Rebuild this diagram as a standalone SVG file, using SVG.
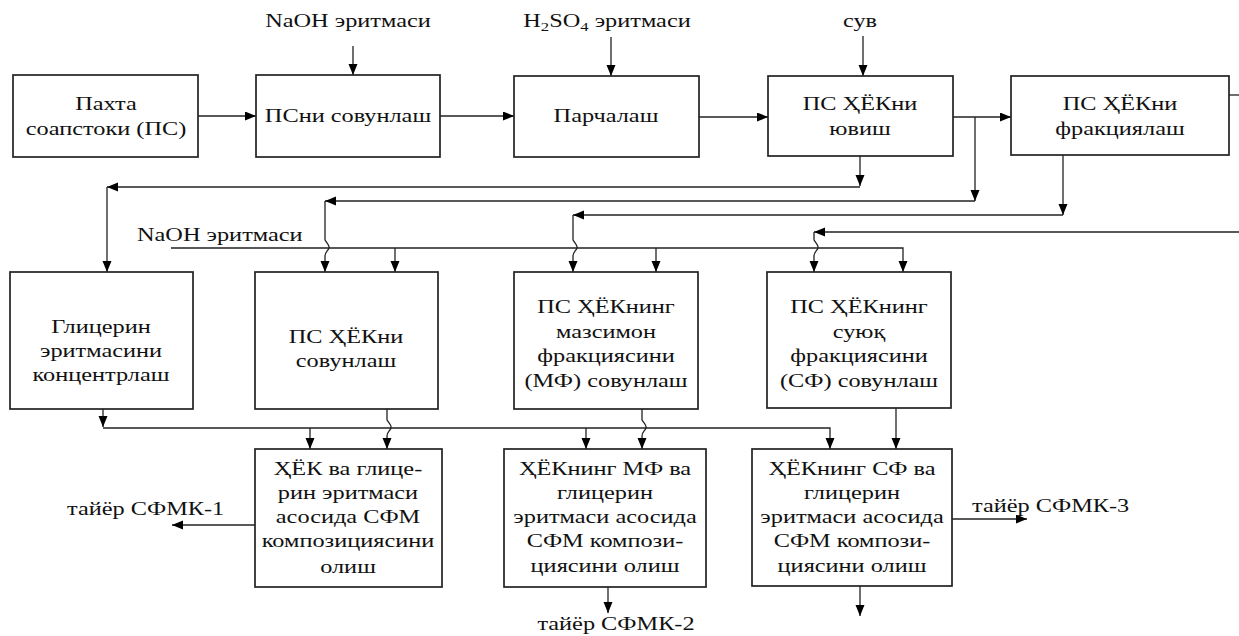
<svg xmlns="http://www.w3.org/2000/svg" width="1239" height="636" viewBox="0 0 1239 636">
<defs>
<marker id="ah" markerUnits="userSpaceOnUse" markerWidth="12" markerHeight="10" refX="11" refY="4.5" orient="auto">
<path d="M0,0 L11,4.5 L0,9 z" fill="#000"/>
</marker>
<style>
.box{fill:#fff;stroke:#222;stroke-width:1.7}
.ln{fill:none;stroke:#222;stroke-width:1.3}
.ar{fill:none;stroke:#222;stroke-width:1.3;marker-end:url(#ah)}
text{font-family:"Liberation Serif","Times New Roman",serif;font-size:19px;fill:#111;text-anchor:middle}
.l{text-anchor:start}
</style>
</defs>
<rect width="1239" height="636" fill="#fff"/>
<g id="connectors">
<path class="ar" d="M198,116 H256"/>
<path class="ar" d="M440,116 H514"/>
<path class="ar" d="M699,117 H768"/>
<path class="ar" d="M953,117 H1011"/>
<path class="ar" d="M353,46 V75"/>
<path class="ar" d="M611,37 V76"/>
<path class="ar" d="M863,36 V76"/>
<path class="ar" d="M860,156 V186"/>
<path class="ar" d="M860,187 H107"/>
<path class="ar" d="M107,187 V272"/>
<path class="ar" d="M975,117 V201"/>
<path class="ar" d="M975,201 H325"/>
<path class="ar" d="M325,201 V240 C327,243 330,246 329,248 C328,251 325,252 325,256 V272"/>
<path class="ar" d="M1063,155 V215"/>
<path class="ar" d="M1063,215 H573"/>
<path class="ar" d="M573,215 V240 C575,243 578,246 577,248 C576,251 573,252 573,256 V272"/>
<path class="ln" d="M1229,95 H1239"/>
<path class="ar" d="M1239,232 H814"/>
<path class="ar" d="M814,232 V240 C816,243 819,246 818,248 C817,251 814,252 814,256 V272"/>
<path class="ar" d="M171,248 H903 V272"/>
<path class="ar" d="M395,248 V272"/>
<path class="ar" d="M656,248 V272"/>
<path class="ar" d="M103,409 V427"/>
<path class="ar" d="M103,428 H830 V449"/>
<path class="ar" d="M310,428 V449"/>
<path class="ar" d="M586,428 V449"/>
<path class="ar" d="M387,409 V420 C389,423 392,426 391,428 C390,431 387,432 387,436 V449"/>
<path class="ar" d="M642,409 V420 C644,423 647,426 646,428 C645,431 642,432 642,436 V449"/>
<path class="ar" d="M896,408 V449"/>
<path class="ar" d="M255,525 H172"/>
<path class="ar" d="M608,587 V613"/>
<path class="ar" d="M952,519 H1027"/>
<path class="ar" d="M860,586 V616"/>
</g>
<g id="labels">
<text transform="translate(348,27) scale(1.28,1)">NaOH эритмаси</text>
<text transform="translate(607,27) scale(1.28,1)">H<tspan font-size="13" dy="4">2</tspan><tspan dy="-4">SO</tspan><tspan font-size="13" dy="4">4</tspan><tspan dy="-4"> эритмаси</tspan></text>
<text transform="translate(860,27) scale(1.28,1)">сув</text>
<text class="l" transform="translate(137,241) scale(1.28,1)">NaOH эритмаси</text>
<text class="l" transform="translate(67,515) scale(1.28,1)">тайёр СФМК-1</text>
<text transform="translate(616,630) scale(1.28,1)">тайёр СФМК-2</text>
<text class="l" transform="translate(972,512) scale(1.28,1)">тайёр СФМК-3</text>
</g>
<g id="n1"><rect class="box" x="13" y="75" width="185" height="82"/><g transform="translate(106,0) scale(1.28,1)"><text y="110">Пахта</text><text y="135">соапстоки (ПС)</text></g></g>
<g id="n2"><rect class="box" x="256" y="75" width="184" height="82"/><g transform="translate(348,0) scale(1.28,1)"><text y="122">ПСни совунлаш</text></g></g>
<g id="n3"><rect class="box" x="514" y="76" width="185" height="81"/><g transform="translate(606,0) scale(1.28,1)"><text y="122">Парчалаш</text></g></g>
<g id="n4"><rect class="box" x="768" y="76" width="185" height="80"/><g transform="translate(860,0) scale(1.28,1)"><text y="110">ПС ҲЁКни</text><text y="135">ювиш</text></g></g>
<g id="n5"><rect class="box" x="1011" y="76" width="218" height="79"/><g transform="translate(1120,0) scale(1.28,1)"><text y="110">ПС ҲЁКни</text><text y="135">фракциялаш</text></g></g>
<g id="n6"><rect class="box" x="10" y="272" width="183" height="137"/><g transform="translate(101,0) scale(1.28,1)"><text y="333">Глицерин</text><text y="357">эритмасини</text><text y="381">концентрлаш</text></g></g>
<g id="n7"><rect class="box" x="255" y="272" width="183" height="137"/><g transform="translate(346,0) scale(1.28,1)"><text y="343">ПС ҲЁКни</text><text y="367">совунлаш</text></g></g>
<g id="n8"><rect class="box" x="514" y="272" width="184" height="137"/><g transform="translate(606,0) scale(1.28,1)"><text y="313">ПС ҲЁКнинг</text><text y="338">мазсимон</text><text y="362">фракциясини</text><text y="387">(МФ) совунлаш</text></g></g>
<g id="n9"><rect class="box" x="767" y="272" width="184" height="136"/><g transform="translate(859,0) scale(1.28,1)"><text y="313">ПС ҲЁКнинг</text><text y="338">суюқ</text><text y="362">фракциясини</text><text y="387">(СФ) совунлаш</text></g></g>
<g id="n10"><rect class="box" x="255" y="449" width="187" height="138"/><g transform="translate(348,0) scale(1.28,1)"><text y="475">ҲЁК ва глице-</text><text y="499">рин эритмаси</text><text y="523">асосида СФМ</text><text y="547">композициясини</text><text y="573">олиш</text></g></g>
<g id="n11"><rect class="box" x="504" y="449" width="202" height="138"/><g transform="translate(605,0) scale(1.28,1)"><text y="475">ҲЁКнинг МФ ва</text><text y="499">глицерин</text><text y="523">эритмаси асосида</text><text y="547">СФМ компози-</text><text y="572">циясини олиш</text></g></g>
<g id="n12"><rect class="box" x="752" y="449" width="200" height="137"/><g transform="translate(852,0) scale(1.28,1)"><text y="475">ҲЁКнинг СФ ва</text><text y="499">глицерин</text><text y="523">эритмаси асосида</text><text y="547">СФМ компози-</text><text y="572">циясини олиш</text></g></g>
</svg>
